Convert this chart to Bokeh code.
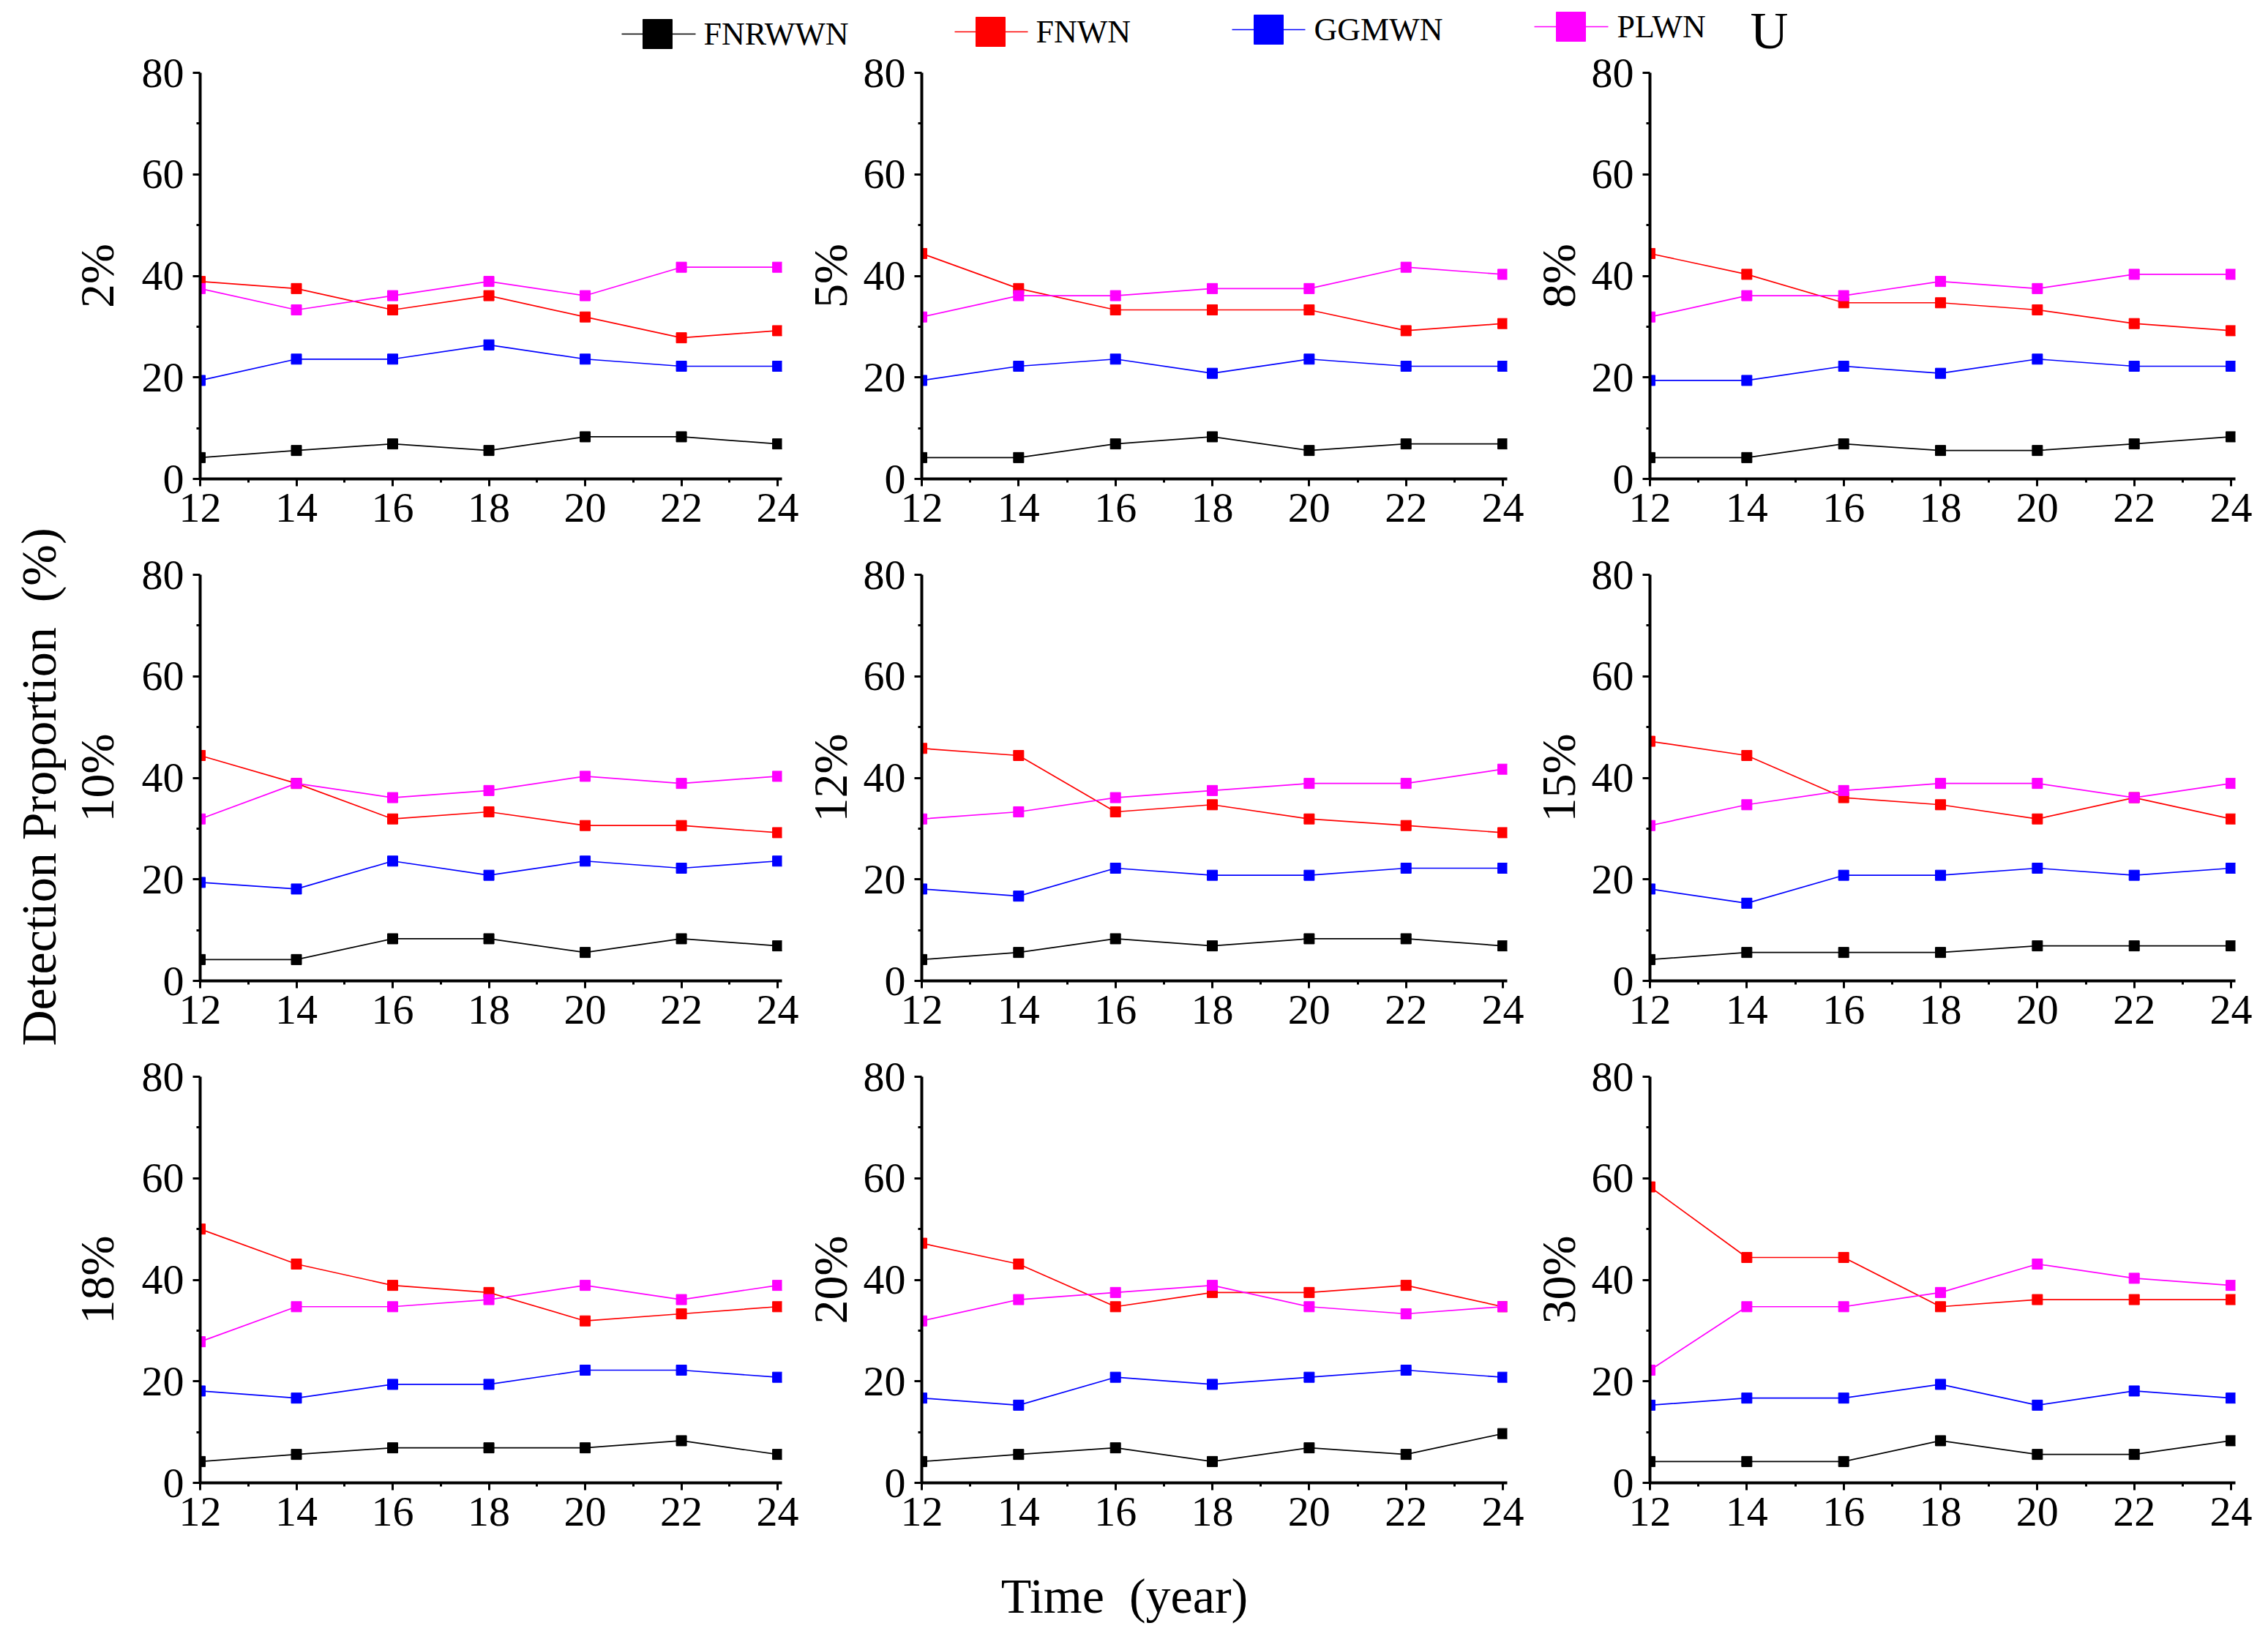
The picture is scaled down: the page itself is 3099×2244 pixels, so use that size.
from math import pi
from bokeh.plotting import figure
from bokeh.models import Range1d, FixedTicker
from bokeh.layouts import column, row
from bokeh.embed import file_html
from bokeh.resources import INLINE
from bokeh.core.properties import value

# ---------------- data ----------------
YEARS = [12, 14, 16, 18, 20, 22, 24]
PANELS = ["2%", "5%", "8%", "10%", "12%", "15%", "18%", "20%", "30%"]
SERIES = ["FNRWWN", "FNWN", "GGMWN", "PLWN"]

FNRWWN = [
    [4.2, 5.6, 6.9, 5.6, 8.3, 8.3, 6.9],
    [4.2, 4.2, 6.9, 8.3, 5.6, 6.9, 6.9],
    [4.2, 4.2, 6.9, 5.6, 5.6, 6.9, 8.3],
    [4.2, 4.2, 8.3, 8.3, 5.6, 8.3, 6.9],
    [4.2, 5.6, 8.3, 6.9, 8.3, 8.3, 6.9],
    [4.2, 5.6, 5.6, 5.6, 6.9, 6.9, 6.9],
    [4.2, 5.6, 6.9, 6.9, 6.9, 8.3, 5.6],
    [4.2, 5.6, 6.9, 4.2, 6.9, 5.6, 9.7],
    [4.2, 4.2, 4.2, 8.3, 5.6, 5.6, 8.3],
]
FNWN = [
    [38.9, 37.5, 33.3, 36.1, 31.9, 27.8, 29.2],
    [44.4, 37.5, 33.3, 33.3, 33.3, 29.2, 30.6],
    [44.4, 40.3, 34.7, 34.7, 33.3, 30.6, 29.2],
    [44.4, 38.9, 31.9, 33.3, 30.6, 30.6, 29.2],
    [45.8, 44.4, 33.3, 34.7, 31.9, 30.6, 29.2],
    [47.2, 44.4, 36.1, 34.7, 31.9, 36.1, 31.9],
    [50.0, 43.1, 38.9, 37.5, 31.9, 33.3, 34.7],
    [47.2, 43.1, 34.7, 37.5, 37.5, 38.9, 34.7],
    [58.3, 44.4, 44.4, 34.7, 36.1, 36.1, 36.1],
]
GGMWN = [
    [19.4, 23.6, 23.6, 26.4, 23.6, 22.2, 22.2],
    [19.4, 22.2, 23.6, 20.8, 23.6, 22.2, 22.2],
    [19.4, 19.4, 22.2, 20.8, 23.6, 22.2, 22.2],
    [19.4, 18.1, 23.6, 20.8, 23.6, 22.2, 23.6],
    [18.1, 16.7, 22.2, 20.8, 20.8, 22.2, 22.2],
    [18.1, 15.3, 20.8, 20.8, 22.2, 20.8, 22.2],
    [18.1, 16.7, 19.4, 19.4, 22.2, 22.2, 20.8],
    [16.7, 15.3, 20.8, 19.4, 20.8, 22.2, 20.8],
    [15.3, 16.7, 16.7, 19.4, 15.3, 18.1, 16.7],
]
PLWN = [
    [37.5, 33.3, 36.1, 38.9, 36.1, 41.7, 41.7],
    [31.9, 36.1, 36.1, 37.5, 37.5, 41.7, 40.3],
    [31.9, 36.1, 36.1, 38.9, 37.5, 40.3, 40.3],
    [31.9, 38.9, 36.1, 37.5, 40.3, 38.9, 40.3],
    [31.9, 33.3, 36.1, 37.5, 38.9, 38.9, 41.7],
    [30.6, 34.7, 37.5, 38.9, 38.9, 36.1, 38.9],
    [27.8, 34.7, 34.7, 36.1, 38.9, 36.1, 38.9],
    [31.9, 36.1, 37.5, 38.9, 34.7, 33.3, 34.7],
    [22.2, 34.7, 34.7, 37.5, 43.1, 40.3, 38.9],
]
X_TICKS = [12, 14, 16, 18, 20, 22, 24]
X_MINOR = [13, 15, 17, 19, 21, 23]
Y_TICKS = [0, 20, 40, 60, 80]
Y_MINOR = [10, 30, 50, 70]
Y_TITLE = "Detection Proportion \u00a0(%)"
X_TITLE = "Time \u00a0(year)"
EXTRA_MARK = "U"

# ---------------- styles / layout ----------------
DATA = {"FNRWWN": FNRWWN, "FNWN": FNWN, "GGMWN": GGMWN, "PLWN": PLWN}
COLORS = {"FNRWWN": "#000000", "FNWN": "#FF0000", "GGMWN": "#0000FF", "PLWN": "#FF00FF"}
FONT = "Liberation Serif"

FRAME_W, FRAME_H = 800, 555
LEG_H = 99          # legend strip height (its lower part overlaps the panels' top border)
LEG_OVERLAP = 33
BORDER_TOP = 33
BORDER_BOTTOM = 98
ROW_H = BORDER_TOP + FRAME_H + BORDER_BOTTOM
YLAB_W = 92
COL_BORDERS = [(176, 26), (165, 30), (165, 28)]
LABEL_STANDOFF = [22, 6, 6]
TOTAL_W = YLAB_W + sum(l + FRAME_W + r for l, r in COL_BORDERS)
XLAB_H = 100
GRID_TOP = LEG_H - LEG_OVERLAP

# legend layout, page pixels measured from the top: (line x0, line x1, y, marker x, label x)
LEG_POS = [
    (849, 950, 46, 898, 961),
    (1304, 1404, 43, 1353, 1415),
    (1683, 1783, 40, 1733, 1795),
    (2096, 2197, 36, 2146, 2209),
]
MARK_POS = (2417, 41)
Y_TITLE_POS = (52, 1075)
X_TITLE_POS = (1536, 2180)


def make_panel(i):
    c = i % 3
    L, R = COL_BORDERS[c]
    p = figure(width=L + FRAME_W + R, height=ROW_H,
               x_range=Range1d(12, 24.09), y_range=Range1d(0, 80),
               min_border_left=L, min_border_right=R,
               min_border_top=BORDER_TOP, min_border_bottom=BORDER_BOTTOM,
               toolbar_location=None, tools="", output_backend="svg")
    p.grid.visible = False
    p.outline_line_color = None
    p.background_fill_color = "white"
    p.border_fill_alpha = 0

    p.xaxis.ticker = FixedTicker(ticks=X_TICKS, minor_ticks=X_MINOR)
    p.yaxis.ticker = FixedTicker(ticks=Y_TICKS, minor_ticks=Y_MINOR)
    for ax in (p.xaxis, p.yaxis):
        ax.major_tick_in = 0
        ax.major_tick_out = 10
        ax.minor_tick_in = 0
        ax.minor_tick_out = 5
        ax.major_tick_line_width = 3
        ax.minor_tick_line_width = 3
        ax.major_tick_line_color = "black"
        ax.minor_tick_line_color = "black"
        ax.axis_line_color = "black"
        ax.axis_line_width = 4
        ax.major_label_text_font = FONT
        ax.major_label_text_font_size = "58px"
        ax.major_label_text_color = "black"
    p.xaxis.major_label_standoff = 10
    p.yaxis.major_label_standoff = 12

    p.yaxis.axis_label = PANELS[i]
    p.yaxis.axis_label_text_font = FONT
    p.yaxis.axis_label_text_font_size = "66px"
    p.yaxis.axis_label_text_font_style = "normal"
    p.yaxis.axis_label_text_color = "black"
    p.yaxis.axis_label_standoff = LABEL_STANDOFF[c]

    for s in SERIES:
        vals = DATA[s][i]
        col = COLORS[s]
        p.line(YEARS, vals, line_color=col, line_width=1.7)
        p.scatter(YEARS, vals, marker="square", size=14, fill_color=col, line_color=col)
    return p


def blank(w, h):
    f = figure(width=w, height=h, x_range=Range1d(0, w), y_range=Range1d(0, h),
               min_border=0, x_axis_location=None, y_axis_location=None,
               toolbar_location=None, tools="", output_backend="svg")
    f.grid.visible = False
    f.outline_line_color = None
    f.background_fill_alpha = 0
    f.border_fill_alpha = 0
    return f


panels = [make_panel(i) for i in range(9)]

# legend strip (y given from the page top, converted to the upward axis)
leg = blank(TOTAL_W, LEG_H)
leg.margin = (0, 0, -LEG_OVERLAP, 0)
for s, (x0, x1, y, mx, lx) in zip(SERIES, LEG_POS):
    col = COLORS[s]
    yy = LEG_H - y
    leg.segment(x0=[x0], y0=[yy], x1=[x1], y1=[yy], line_color=col, line_width=1.7)
    leg.scatter(x=[mx], y=[yy], marker="square", size=40, fill_color=col, line_color=col)
    leg.text(x=[lx], y=[yy], text=[s], text_font=value(FONT), text_font_size="44px",
             text_color="black", text_align="left", text_baseline="middle")
leg.text(x=[MARK_POS[0]], y=[LEG_H - MARK_POS[1]], text=[EXTRA_MARK], text_font=value(FONT),
         text_font_size="72px", text_color="black", text_align="center", text_baseline="middle")

# global y title
YH = 3 * ROW_H
ylab = blank(YLAB_W, YH)
ylab.text(x=[Y_TITLE_POS[0]], y=[YH - (Y_TITLE_POS[1] - GRID_TOP)], text=[Y_TITLE], angle=pi / 2,
          text_font=value(FONT), text_font_size="68px", text_color="black",
          text_align="center", text_baseline="middle")

# global x title
xlab = blank(TOTAL_W, XLAB_H)
xlab.text(x=[X_TITLE_POS[0]], y=[XLAB_H - (X_TITLE_POS[1] - GRID_TOP - YH)], text=[X_TITLE],
          text_font=value(FONT), text_font_size="68px", text_color="black",
          text_align="center", text_baseline="middle")

grid = row(ylab,
           column(panels[0], panels[3], panels[6]),
           column(panels[1], panels[4], panels[7]),
           column(panels[2], panels[5], panels[8]))
layout = column(leg, grid, xlab)

open("out.html", "w").write(file_html(layout, INLINE, title="Detection Proportion"))
